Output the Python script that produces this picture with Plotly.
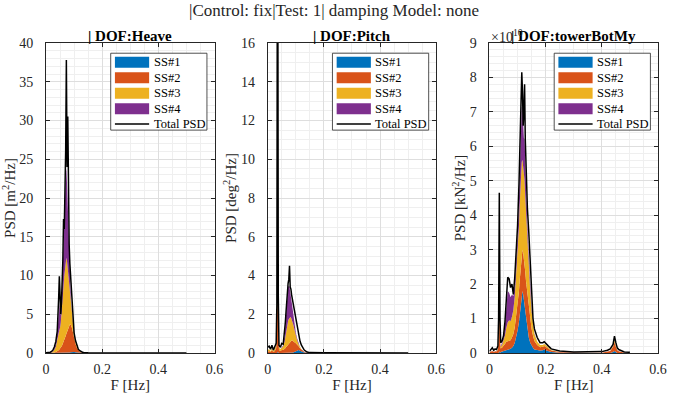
import plotly.graph_objects as go

FONT = "Liberation Serif"
INK = "#262626"

# ---------------- Heave PSD [m^2/Hz] ----------------
heave_f = [0, 0.005, 0.01, 0.015, 0.02, 0.025, 0.03, 0.035, 0.04, 0.0425,
           0.045, 0.0475, 0.05, 0.0525, 0.055, 0.0575, 0.06, 0.0625, 0.065, 0.0675,
           0.07, 0.0725, 0.075, 0.0775, 0.08, 0.0825, 0.085, 0.0875, 0.09, 0.0925,
           0.095, 0.0975, 0.1, 0.105, 0.11, 0.115, 0.12, 0.125, 0.13, 0.135,
           0.14, 0.15, 0.2, 0.3, 0.4, 0.5]
heave_total = [0.02, 0.03, 0.05, 0.1, 0.2, 0.4, 0.8, 1.5, 2.8, 4.5,
               7.0, 9.9, 5.8, 5.0, 6.5, 9.0, 12.0, 17.3, 16.0, 21.0,
               26.0, 37.8, 24.0, 30.5, 20.0, 14.0, 11.5, 10.0, 7.8, 6.0,
               4.6, 3.4, 2.6, 1.6, 0.9, 0.5, 0.3, 0.18, 0.1, 0.06,
               0.04, 0.02, 0.01, 0.005, 0.003, 0.002]
heave_ss1 = [0, 0, 0, 0, 0, 0, 0, 0, 0, 0,
             0, 0, 0, 0, 0, 0, 0, 0, 0, 0,
             0, 0, 0, 0, 0.03, 0.05, 0.08, 0.1, 0.12, 0.14,
             0.15, 0.15, 0.14, 0.1, 0.07, 0.04, 0.02, 0.01, 0, 0,
             0, 0, 0, 0, 0, 0]
heave_ss2 = [0, 0, 0, 0, 0.01, 0.03, 0.06, 0.12, 0.2, 0.28,
             0.35, 0.45, 0.55, 0.7, 0.85, 1.0, 1.2, 1.4, 1.6, 1.9,
             2.2, 2.5, 2.8, 3.1, 3.3, 3.5, 3.6, 3.6, 3.4, 3.1,
             2.7, 2.2, 1.8, 1.1, 0.6, 0.3, 0.15, 0.08, 0.04, 0.02,
             0.01, 0, 0, 0, 0, 0]
heave_ss3 = [0, 0, 0, 0, 0.05, 0.15, 0.35, 0.7, 1.3, 1.8,
             2.2, 2.5, 2.7, 3.2, 4.0, 5.0, 6.0, 7.2, 8.3, 9.2,
             9.8, 9.8, 9.0, 7.8, 6.3, 5.0, 3.8, 2.9, 2.1, 1.5,
             1.0, 0.7, 0.45, 0.25, 0.12, 0.05, 0.02, 0, 0, 0,
             0, 0, 0, 0, 0, 0]
heave_ss4 = [0, 0, 0, 0, 0.03, 0.08, 0.2, 0.4, 0.9, 1.5,
             2.5, 3.5, 1.8, 1.0, 1.4, 2.5, 3.8, 5.5, 6.0, 8.5,
             11.0, 11.5, 10.0, 8.0, 5.5, 3.5, 2.3, 1.5, 0.9, 0.5,
             0.3, 0.15, 0.08, 0.04, 0.02, 0, 0, 0, 0, 0,
             0, 0, 0, 0, 0, 0]

# ---------------- Pitch PSD [deg^2/Hz] ----------------
pitch_f = [0, 0.005, 0.01, 0.015, 0.02, 0.025, 0.03, 0.0325, 0.035, 0.0375,
           0.04, 0.045, 0.05, 0.055, 0.06, 0.0625, 0.065, 0.0675, 0.07, 0.0725,
           0.075, 0.0775, 0.08, 0.0825, 0.085, 0.0875, 0.09, 0.0925, 0.095, 0.0975,
           0.1, 0.105, 0.11, 0.115, 0.12, 0.125, 0.13, 0.14, 0.15, 0.2,
           0.3, 0.4, 0.5]
pitch_total = [0.3, 0.35, 0.2, 0.4, 0.15, 0.3, 0.5, 2.5, 30.0, 3.0,
               0.4, 0.3, 0.5, 0.45, 1.0, 1.55, 2.1, 2.8, 3.3, 3.6,
               3.8, 4.5, 3.4, 3.3, 3.0, 2.8, 2.6, 2.3, 2.1, 1.8,
               1.6, 1.3, 0.9, 0.6, 0.4, 0.25, 0.15, 0.05, 0.02, 0.01,
               0.005, 0.003, 0.002]
pitch_ss1 = [0, 0, 0, 0, 0, 0, 0, 0, 0.05, 0,
             0, 0, 0, 0, 0, 0, 0, 0, 0, 0,
             0, 0, 0, 0, 0, 0, 0.03, 0.04, 0.06, 0.08,
             0.1, 0.14, 0.15, 0.12, 0.08, 0.04, 0.02, 0, 0, 0,
             0, 0, 0]
pitch_ss2 = [0.05, 0.1, 0.05, 0.15, 0.05, 0.1, 0.25, 1.5, 3.0, 1.5,
             0.15, 0.1, 0.15, 0.15, 0.2, 0.25, 0.3, 0.35, 0.4, 0.45,
             0.5, 0.55, 0.6, 0.65, 0.65, 0.65, 0.6, 0.55, 0.5, 0.45,
             0.4, 0.3, 0.2, 0.12, 0.08, 0.05, 0.03, 0.01, 0, 0,
             0, 0, 0]
pitch_ss3 = [0.1, 0.1, 0.05, 0.1, 0.05, 0.1, 0.15, 0.5, 1.0, 0.8,
             0.15, 0.1, 0.15, 0.2, 0.4, 0.6, 0.8, 1.0, 1.1, 1.2,
             1.25, 1.3, 1.25, 1.2, 1.1, 1.0, 0.9, 0.8, 0.65, 0.5,
             0.35, 0.2, 0.1, 0.05, 0.02, 0, 0, 0, 0, 0,
             0, 0, 0]
pitch_ss4 = [0, 0, 0, 0, 0, 0, 0, 0, 0, 0,
             0, 0, 0, 0.05, 0.3, 0.6, 0.9, 1.3, 1.6, 1.8,
             1.7, 1.6, 1.3, 1.1, 0.9, 0.75, 0.6, 0.45, 0.35, 0.25,
             0.18, 0.1, 0.05, 0.02, 0, 0, 0, 0, 0, 0,
             0, 0, 0]

# ---------------- Tower-base moment PSD [kN^2/Hz], in units of 1e10 ----------------
tower_f = [0, 0.005, 0.01, 0.015, 0.02, 0.025, 0.03, 0.0325, 0.035, 0.0375,
           0.04, 0.045, 0.05, 0.055, 0.06, 0.065, 0.07, 0.075, 0.08, 0.085,
           0.09, 0.095, 0.1, 0.105, 0.1075, 0.11, 0.1125, 0.115, 0.1175, 0.12,
           0.1225, 0.125, 0.1275, 0.13, 0.135, 0.14, 0.145, 0.15, 0.155, 0.16,
           0.17, 0.18, 0.19, 0.195, 0.2, 0.21, 0.22, 0.25, 0.3, 0.35,
           0.4, 0.42, 0.43, 0.44, 0.445, 0.45, 0.455, 0.46, 0.47, 0.48,
           0.5]
tower_total = [0.05, 0.1, 0.15, 0.08, 0.12, 0.1, 0.2, 1.0, 4.65, 1.0,
               0.3, 0.35, 0.5, 0.9, 1.6, 2.2, 2.15, 1.9, 2.0, 1.7,
               2.2, 2.9, 3.7, 4.9, 5.6, 6.5, 7.2, 8.15, 7.6, 6.6,
               7.0, 7.8, 6.2, 5.2, 4.2, 3.5, 2.5, 1.6, 1.0, 0.7,
               0.45, 0.3, 0.3, 0.33, 0.28, 0.2, 0.12, 0.06, 0.03, 0.03,
               0.04, 0.08, 0.12, 0.25, 0.49, 0.3, 0.15, 0.1, 0.06, 0.03,
               0.02]
tower_ss1 = [0, 0, 0, 0, 0, 0, 0.02, 0, 0.05, 0,
             0.03, 0.04, 0.05, 0.06, 0.08, 0.09, 0.1, 0.12, 0.15, 0.2,
             0.3, 0.45, 0.65, 0.9, 1.1, 1.3, 1.5, 1.75, 1.8, 1.7,
             1.55, 1.4, 1.2, 1.0, 0.7, 0.45, 0.3, 0.2, 0.15, 0.1,
             0.08, 0.07, 0.08, 0.1, 0.08, 0.05, 0.03, 0.01, 0, 0,
             0, 0, 0, 0.03, 0.06, 0.03, 0, 0, 0, 0,
             0]
tower_ss2 = [0.02, 0.04, 0.06, 0.03, 0.05, 0.04, 0.08, 0.4, 1.5, 0.4,
             0.1, 0.12, 0.15, 0.2, 0.25, 0.25, 0.25, 0.25, 0.3, 0.35,
             0.45, 0.6, 0.75, 0.9, 1.0, 1.1, 1.15, 1.2, 1.2, 1.2,
             1.2, 1.2, 1.15, 1.1, 1.0, 0.9, 0.7, 0.5, 0.35, 0.25,
             0.15, 0.1, 0.1, 0.1, 0.1, 0.07, 0.04, 0.02, 0.01, 0.01,
             0.01, 0.03, 0.06, 0.15, 0.25, 0.15, 0.08, 0.05, 0.02, 0.01,
             0]
tower_ss3 = [0, 0, 0, 0, 0, 0, 0.03, 0.2, 0.8, 0.2,
             0.05, 0.08, 0.15, 0.25, 0.4, 0.55, 0.6, 0.55, 0.6, 0.7,
             0.9, 1.2, 1.5, 1.9, 2.2, 2.4, 2.5, 2.6, 2.6, 2.5,
             2.5, 2.4, 2.2, 2.0, 1.6, 1.2, 0.8, 0.5, 0.3, 0.2,
             0.1, 0.06, 0.05, 0.06, 0.05, 0.03, 0.02, 0, 0, 0,
             0, 0, 0, 0.02, 0.05, 0.03, 0, 0, 0, 0,
             0]
tower_ss4 = [0, 0, 0, 0, 0, 0, 0, 0, 0, 0,
             0.02, 0.05, 0.1, 0.3, 0.6, 0.9, 0.8, 0.7, 0.65, 0.4,
             0.35, 0.4, 0.5, 0.8, 1.0, 1.3, 1.5, 1.6, 1.5, 1.0,
             1.0, 1.2, 0.9, 0.6, 0.4, 0.3, 0.2, 0.1, 0.05, 0.02,
             0, 0, 0, 0, 0, 0, 0, 0, 0, 0,
             0, 0, 0, 0, 0, 0, 0, 0, 0, 0,
             0]

sea_state_names = ["SS#1", "SS#2", "SS#3", "SS#4"]
sea_state_colors = ["#0072BD", "#D95319", "#EDB120", "#7E2F8E"]

suptitle = "|Control: fix|Test: 1| damping Model: none"
panels = [
    dict(title="| DOF:Heave", ylabel="PSD [m<sup>2</sup>/Hz]",
         f=heave_f, total=heave_total,
         ss=[heave_ss1, heave_ss2, heave_ss3, heave_ss4],
         yrange=[0, 40], dtick=5, minor=1),
    dict(title="| DOF:Pitch", ylabel="PSD [deg<sup>2</sup>/Hz]",
         f=pitch_f, total=pitch_total,
         ss=[pitch_ss1, pitch_ss2, pitch_ss3, pitch_ss4],
         yrange=[0, 16], dtick=2, minor=0.5),
    dict(title="| DOF:towerBotMy", ylabel="PSD [kN<sup>2</sup>/Hz]",
         f=tower_f, total=tower_total,
         ss=[tower_ss1, tower_ss2, tower_ss3, tower_ss4],
         yrange=[0, 9], dtick=1, minor=0.2),
]

for p in panels:
    assert all(len(s) == len(p["f"]) for s in p["ss"] + [p["total"]])

# figure geometry (pixels)
W, H = 676, 403
ML, MR, MT, MB = 46, 9, 43, 50
PW = W - ML - MR
PH = H - MT - MB
domains = [[0.0, 171 / PW], [225 / PW, 396 / PW], [450 / PW, 1.0]]


def paper_y(px_from_top):
    """Convert a distance from the top of the page to paper coordinates."""
    return (H - MB - px_from_top) / PH


fig = go.Figure()
layout = dict(
    width=W, height=H,
    margin=dict(l=ML, r=MR, t=MT, b=MB),
    paper_bgcolor="white", plot_bgcolor="white",
    showlegend=False,
    font=dict(family=FONT, color=INK),
)
shapes = []
annotations = []

for i, p in enumerate(panels, start=1):
    sfx = "" if i == 1 else str(i)
    xa, ya = "x" + sfx, "y" + sfx
    for name, color, vals in zip(sea_state_names, sea_state_colors, p["ss"]):
        fig.add_trace(go.Scatter(
            x=p["f"], y=vals, name=name, mode="lines",
            stackgroup="stack" + str(i), line=dict(width=0, color=color),
            fillcolor=color, xaxis=xa, yaxis=ya))
    fig.add_trace(go.Scatter(
        x=p["f"], y=p["total"], name="Total PSD", mode="lines",
        line=dict(color="black", width=1.5), xaxis=xa, yaxis=ya))

    common = dict(
        showline=True, linecolor=INK, linewidth=1, mirror="ticks",
        ticks="inside", ticklen=4, tickcolor=INK,
        showgrid=True, gridcolor="#dedede", gridwidth=1, zeroline=False,
        tickfont=dict(family=FONT, size=14, color=INK),
    )
    layout["xaxis" + sfx] = dict(
        common, domain=domains[i - 1], anchor=ya, range=[0, 0.6],
        tick0=0, dtick=0.2, ticklabelstandoff=3,
        minor=dict(dtick=0.05, showgrid=True, gridcolor="#efefef", ticks=""),
        title=dict(text="F [Hz]", font=dict(family=FONT, size=15, color=INK),
                   standoff=3),
    )
    layout["yaxis" + sfx] = dict(
        common, domain=[0, 1], anchor=xa, range=p["yrange"],
        tick0=0, dtick=p["dtick"], ticklabelstandoff=9,
        minor=dict(dtick=p["minor"], showgrid=True, gridcolor="#efefef", ticks=""),
        title=dict(text=p["ylabel"], font=dict(family=FONT, size=15, color=INK),
                   standoff=0),
    )

    # panel title
    d0, d1 = domains[i - 1]
    annotations.append(dict(
        text="<b>" + p["title"] + "</b>", xref="paper", yref="paper",
        x=(d0 + d1) / 2, y=paper_y(36),
        xanchor="center", yanchor="middle", showarrow=False,
        font=dict(family=FONT, size=15, color="black")))

    # legend box drawn inside the axes
    xr, yr = xa + " domain", ya + " domain"
    shapes.append(dict(type="rect", xref=xr, yref=yr, x0=0.384, x1=0.955,
                       y0=0.719, y1=0.967, line=dict(color=INK, width=0.8),
                       fillcolor="white", layer="above"))
    row_y = [0.938, 0.888, 0.838, 0.788, 0.739]
    for k, (name, color) in enumerate(zip(sea_state_names, sea_state_colors)):
        shapes.append(dict(type="rect", xref=xr, yref=yr, x0=0.409, x1=0.612,
                           y0=row_y[k] - 0.018, y1=row_y[k] + 0.018,
                           line=dict(width=0), fillcolor=color, layer="above"))
        annotations.append(dict(text=name, xref=xr, yref=yr, x=0.627, y=row_y[k],
                                xanchor="left", yanchor="middle", showarrow=False,
                                font=dict(family=FONT, size=12.5, color="black")))
    shapes.append(dict(type="line", xref=xr, yref=yr, x0=0.409, x1=0.612,
                       y0=row_y[4], y1=row_y[4], line=dict(color="black", width=1.5),
                       layer="above"))
    annotations.append(dict(text="Total PSD", xref=xr, yref=yr, x=0.627, y=row_y[4],
                            xanchor="left", yanchor="middle", showarrow=False,
                            font=dict(family=FONT, size=12.5, color="black")))

# exponent label of the tower moment axis
annotations.append(dict(
    text="×10<sup>10</sup>", xref="paper", yref="paper",
    x=domains[2][0], y=paper_y(36), xanchor="left", yanchor="middle",
    showarrow=False, font=dict(family=FONT, size=14, color=INK)))

# overall title
annotations.append(dict(
    text=suptitle, xref="paper", yref="paper",
    x=(338 - ML) / PW, y=paper_y(11), xanchor="center", yanchor="middle",
    showarrow=False, font=dict(family=FONT, size=17, color=INK)))

layout["shapes"] = shapes
layout["annotations"] = annotations
fig.update_layout(**layout)
fig.write_html("out.html")
